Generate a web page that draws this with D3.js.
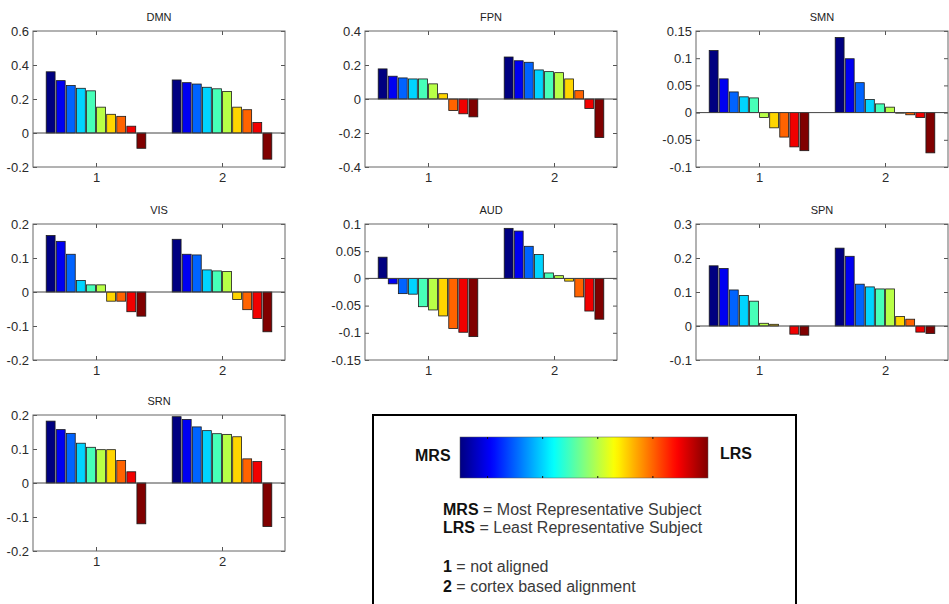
<!DOCTYPE html>
<html>
<head>
<meta charset="utf-8">
<script src="https://cdn.jsdelivr.net/npm/d3@7"></script>
<style>
  body { margin: 0; background: #fff; }
  svg { display: block; font-family: "Liberation Sans", Arial, sans-serif; }
</style>
</head>
<body>
<svg width="949" height="604"></svg>
<script>
// bar values, [not aligned, cortex based alignment], 10 subjects MRS -> LRS
var groups = [1, 2];
var networks = ["DMN", "FPN", "SMN", "VIS", "AUD", "SPN", "SRN"];

var dmn = [[0.360, 0.308, 0.279, 0.263, 0.248, 0.152, 0.110, 0.098, 0.040, -0.090],
           [0.312, 0.296, 0.288, 0.269, 0.260, 0.244, 0.152, 0.137, 0.062, -0.154]];
var fpn = [[0.177, 0.134, 0.124, 0.118, 0.118, 0.089, 0.031, -0.068, -0.087, -0.105],
           [0.247, 0.225, 0.216, 0.171, 0.161, 0.155, 0.118, 0.049, -0.056, -0.227]];
var smn = [[0.114, 0.062, 0.038, 0.029, 0.027, -0.009, -0.028, -0.045, -0.063, -0.070],
           [0.138, 0.099, 0.055, 0.024, 0.016, 0.010, -0.001, -0.004, -0.009, -0.074]];
var vis = [[0.166, 0.149, 0.111, 0.034, 0.021, 0.021, -0.027, -0.027, -0.058, -0.071],
           [0.155, 0.111, 0.109, 0.065, 0.062, 0.060, -0.022, -0.052, -0.078, -0.117]];
var aud = [[0.039, -0.010, -0.028, -0.029, -0.052, -0.058, -0.069, -0.092, -0.099, -0.107],
           [0.092, 0.087, 0.059, 0.044, 0.010, 0.005, -0.005, -0.034, -0.060, -0.075]];
var spn = [[0.177, 0.169, 0.106, 0.090, 0.073, 0.008, 0.005, 0.0, -0.024, -0.027],
           [0.229, 0.205, 0.123, 0.115, 0.109, 0.109, 0.028, 0.020, -0.018, -0.022]];
var srn = [[0.182, 0.157, 0.146, 0.117, 0.105, 0.098, 0.098, 0.066, 0.033, -0.120],
           [0.195, 0.187, 0.165, 0.154, 0.145, 0.143, 0.136, 0.071, 0.063, -0.128]];

var yDomains = [[-0.2, 0.6], [-0.4, 0.4], [-0.1, 0.15], [-0.2, 0.2], [-0.15, 0.1], [-0.1, 0.3], [-0.2, 0.2]];
var yTicks = [[-0.2, 0, 0.2, 0.4, 0.6],
              [-0.4, -0.2, 0, 0.2, 0.4],
              [-0.1, -0.05, 0, 0.05, 0.1, 0.15],
              [-0.2, -0.1, 0, 0.1, 0.2],
              [-0.15, -0.1, -0.05, 0, 0.05, 0.1],
              [-0.1, 0, 0.1, 0.2, 0.3],
              [-0.2, -0.1, 0, 0.1, 0.2]];
var panelData = [dmn, fpn, smn, vis, aud, spn, srn];

// matlab style jet colormap
function jet(t) {
  function c(v) { return Math.round(255 * Math.max(0, Math.min(1, v))); }
  return d3.rgb(c(1.5 - Math.abs(4 * t - 3)), c(1.5 - Math.abs(4 * t - 2)), c(1.5 - Math.abs(4 * t - 1))).toString();
}

var svg = d3.select("svg");
var colLeft = [33, 365, 696],
    rowTop = [31, 224, 415],
    w = 252,
    h = 136;

function fmt(v) { return Math.abs(v) < 1e-9 ? "0" : String(+v.toFixed(2)); }

networks.forEach(function(name, p) {
  var g = svg.append("g")
      .attr("transform", "translate(" + colLeft[p % 3] + "," + rowTop[Math.floor(p / 3)] + ")");

  var x = d3.scaleLinear().domain([0.5, 2.5]).range([0, w]);
  var xs = d3.scaleBand()
      .domain(d3.range(10))
      .range([x(0.6) - x(1), x(1.4) - x(1)])
      .paddingInner(0.12).paddingOuter(0.06);
  var y = d3.scaleLinear().domain(yDomains[p]).range([h, 0]);

  groups.forEach(function(gr, gi) {
    g.selectAll(".bar" + gi)
      .data(panelData[p][gi])
      .enter().append("rect")
        .attr("x", function(d, i) { return x(gr) + xs(i); })
        .attr("y", function(d) { return y(Math.max(d, 0)); })
        .attr("width", xs.bandwidth())
        .attr("height", function(d) { return Math.abs(y(d) - y(0)); })
        .attr("fill", function(d, i) { return jet(i / 9); })
        .attr("stroke", "#1a1a1a")
        .attr("stroke-width", 0.8);
  });

  // baseline
  g.append("line")
    .attr("x1", 0).attr("x2", w)
    .attr("y1", y(0)).attr("y2", y(0))
    .attr("stroke", "#444").attr("stroke-width", 1);

  var axes = [
    g.append("g").call(d3.axisLeft(y).tickValues(yTicks[p]).tickFormat(fmt).tickSizeInner(-4).tickSizeOuter(0).tickPadding(4)),
    g.append("g").attr("transform", "translate(" + w + ",0)")
      .call(d3.axisRight(y).tickValues(yTicks[p]).tickFormat("").tickSizeInner(-4).tickSizeOuter(0)),
    g.append("g").attr("transform", "translate(0," + h + ")")
      .call(d3.axisBottom(x).tickValues(groups).tickFormat(d3.format("d")).tickSizeInner(-4).tickSizeOuter(0).tickPadding(6)),
    g.append("g")
      .call(d3.axisTop(x).tickValues(groups).tickFormat("").tickSizeInner(-4).tickSizeOuter(0))
  ];
  axes.forEach(function(a) {
    a.select(".domain").remove();
    a.attr("color", "#555")
      .selectAll("text")
        .attr("fill", "#2a2a2a")
        .style("font-size", "13px");
  });

  g.append("rect")
    .attr("width", w).attr("height", h)
    .attr("fill", "none")
    .attr("stroke", "#666").attr("stroke-width", 1);

  g.append("text")
    .attr("x", w / 2).attr("y", -10)
    .attr("text-anchor", "middle")
    .attr("fill", "#222")
    .style("font-size", "11px")
    .text(name);
});

// legend box
var lg = svg.append("g");
lg.append("rect")
  .attr("x", 373).attr("y", 415)
  .attr("width", 423).attr("height", 200)
  .attr("fill", "#fff")
  .attr("stroke", "#000").attr("stroke-width", 2);

var grad = svg.append("defs").append("linearGradient").attr("id", "jetgrad");
grad.selectAll("stop")
  .data(d3.range(0, 1.0001, 0.02))
  .enter().append("stop")
    .attr("offset", function(d) { return d; })
    .attr("stop-color", function(d) { return jet(d); });

var cb = d3.scaleLinear().domain([0, 1]).range([460, 708]);
lg.append("rect")
  .attr("x", cb(0)).attr("y", 437)
  .attr("width", cb(1) - cb(0)).attr("height", 41)
  .attr("fill", "url(#jetgrad)")
  .attr("stroke", "#555").attr("stroke-width", 0.5);

[1 / 9, 3 / 9, 5 / 9, 7 / 9].forEach(function(t) {
  lg.append("line").attr("x1", cb(t)).attr("x2", cb(t)).attr("y1", 437).attr("y2", 439).attr("stroke", "#111");
  lg.append("line").attr("x1", cb(t)).attr("x2", cb(t)).attr("y1", 476).attr("y2", 478).attr("stroke", "#111");
});

lg.append("text").attr("x", 415).attr("y", 461)
  .style("font-size", "16px").style("font-weight", "bold").attr("fill", "#111")
  .text("MRS");
lg.append("text").attr("x", 720).attr("y", 459)
  .style("font-size", "16px").style("font-weight", "bold").attr("fill", "#111")
  .text("LRS");

var lines = [
  ["MRS", " = Most Representative Subject", 515],
  ["LRS", " = Least Representative Subject", 533],
  ["1", " = not aligned", 572],
  ["2", " = cortex based alignment", 592]
];
lines.forEach(function(l) {
  var t = lg.append("text").attr("x", 443).attr("y", l[2]).style("font-size", "16px");
  t.append("tspan").style("font-weight", "bold").attr("fill", "#111").text(l[0]);
  t.append("tspan").attr("fill", "#3a3a3a").text(l[1]);
});
</script>
</body>
</html>
